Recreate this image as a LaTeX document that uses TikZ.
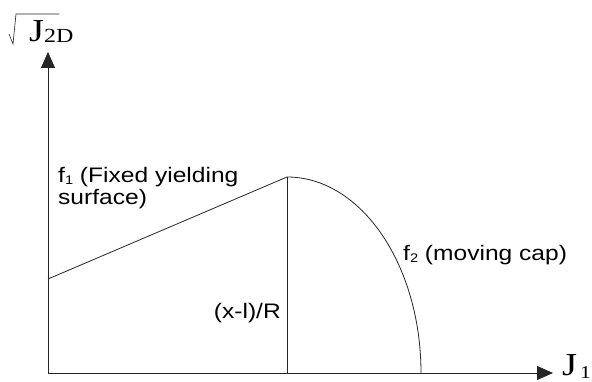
\documentclass[tikz,border=0pt]{standalone}
\usepackage{fontspec}
\usetikzlibrary{arrows.meta}
\newfontfamily\labfont[FakeStretch=1.17]{Liberation Sans}
\newfontfamily\serfont[FakeStretch=1.2]{Liberation Serif}
\tikzset{
  curve/.style={draw=black!85, line width=0.8pt},
  axis/.style={draw=black!85, line width=0.8pt, -{Triangle[length=16pt,width=14pt]}},
  lab/.style={inner sep=0pt, font=\labfont\fontsize{21}{22}\selectfont, text=black},
  axlab/.style={inner sep=0pt, font=\serfont\fontsize{32}{34}\selectfont},
}
\newcommand{\subsm}[1]{\raisebox{-0.12em}{\fontsize{12.5}{12.5}\selectfont #1}}
\begin{document}
\begin{tikzpicture}[x=1pt,y=1pt]
\useasboundingbox (0,0) rectangle (592,381);
\fill[white] (0,0) rectangle (592,381);
\coordinate (O) at (48,8);
\coordinate (ytip) at (48,329);
\coordinate (xtip) at (553,8);
\coordinate (A) at (48,102);
\coordinate (P) at (287,204);
\coordinate (Q) at (287,8);
\coordinate (C) at (421,8);
\draw[axis] (O) -- (ytip);
\draw[axis] (O) -- (xtip);
\draw[curve] (A) -- (P);
\draw[curve] (P) -- (Q);
\draw[curve] (P) arc[start angle=90, end angle=0, x radius=134pt, y radius=196pt];
\node[lab, anchor=north west, align=left] (f1) at (58,214) {f\subsm{1} (Fixed yielding\\surface)};
\node[lab, anchor=base east] (xr) at (281,63) {(x-l)/R};
\node[lab, anchor=base west] (f2) at (403,121) {f\subsm{2} (moving cap)};
\node[axlab, anchor=base west] (j1) at (562,6) {J\kern3pt\raisebox{-0.1em}{\fontsize{18}{18}\selectfont 1}};
\node[axlab, anchor=base west] (j2d) at (29,339) {J\raisebox{-0.02em}{\fontsize{20}{20}\selectfont 2D}};
\draw[line width=0.6pt, black!85] (9,347) -- (13,337) -- (16,367) -- (59,367);
\end{tikzpicture}
\end{document}
